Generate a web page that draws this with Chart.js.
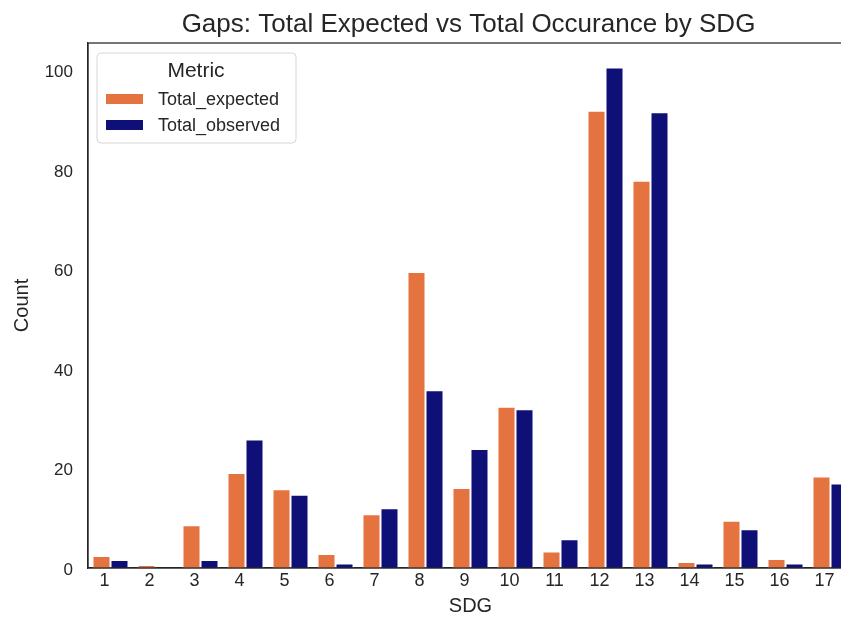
<!DOCTYPE html>
<html>
<head>
<meta charset="utf-8">
<script src="https://cdn.jsdelivr.net/npm/chart.js@4.4.1/dist/chart.umd.min.js"></script>
<style>
  html, body { margin: 0; padding: 0; overflow: hidden; background: #fff; }
  #wrap { position: absolute; left: 0; top: 0; width: 870px; height: 627px; }
</style>
</head>
<body>
<div id="wrap"><canvas id="gapChart"></canvas></div>
<script>
const sdgLabels = ["1", "2", "3", "4", "5", "6", "7", "8", "9", "10", "11", "12", "13", "14", "15", "16", "17"];
const totalExpected = [2.4, 0.6, 8.6, 19.1, 15.8, 2.8, 10.8, 59.5, 16.1, 32.4, 3.3, 91.9, 77.8, 1.2, 9.5, 1.8, 18.4];
const totalObserved = [1.6, 0, 1.6, 25.8, 14.7, 0.9, 12.0, 35.7, 23.9, 31.9, 5.8, 100.6, 91.6, 0.9, 7.8, 0.9, 17.0];
const yTicks = [0, 20, 40, 60, 80, 100];
const chartTitle = "Gaps: Total Expected vs Total Occurance by SDG";

const textColor = "#262626";
const fontFamily = "'Liberation Sans', Arial, sans-serif";

// title centred over the plot area, not over the whole canvas
const plotTitle = {
  id: "plotTitle",
  afterDraw(chart) {
    const { ctx, chartArea: a } = chart;
    ctx.save();
    ctx.fillStyle = textColor;
    ctx.font = "26px " + fontFamily;
    ctx.textAlign = "center";
    ctx.textBaseline = "alphabetic";
    ctx.fillText(chartTitle, (a.left + a.right) / 2 - 2, 32);
    ctx.restore();
  },
};

// top/right spine, like the matplotlib axes box
const axesBox = {
  id: "axesBox",
  afterDraw(chart) {
    const { ctx, chartArea: a } = chart;
    ctx.save();
    ctx.strokeStyle = textColor;
    ctx.lineWidth = 1.25;
    ctx.strokeRect(a.left, a.top, a.right - a.left, a.bottom - a.top);
    ctx.restore();
  },
};

// legend box drawn inside the plot, top left
const metricLegend = {
  id: "metricLegend",
  afterDraw(chart) {
    const { ctx, chartArea: a } = chart;
    const x = a.left + 9, y = a.top + 10, w = 199, h = 90;
    ctx.save();
    ctx.fillStyle = "rgba(255,255,255,0.85)";
    ctx.strokeStyle = "#d6d6d6";
    ctx.lineWidth = 1;
    ctx.beginPath();
    ctx.roundRect(x, y, w, h, 4);
    ctx.fill();
    ctx.stroke();

    ctx.fillStyle = textColor;
    ctx.textAlign = "center";
    ctx.textBaseline = "alphabetic";
    ctx.font = "21px " + fontFamily;
    ctx.fillText("Metric", x + 99, y + 24);

    ctx.textAlign = "left";
    ctx.font = "18px " + fontFamily;
    chart.data.datasets.forEach((ds, i) => {
      const rowY = y + 46 + i * 26;
      ctx.fillStyle = ds.backgroundColor;
      ctx.fillRect(x + 9, rowY - 5, 37, 10);
      ctx.fillStyle = textColor;
      ctx.fillText(ds.label, x + 61, rowY + 6);
    });
    ctx.restore();
  },
};

new Chart(document.getElementById("gapChart"), {
  type: "bar",
  data: {
    labels: sdgLabels,
    datasets: [
      {
        label: "Total_expected",
        data: totalExpected,
        backgroundColor: "#e5733f",
        borderColor: "rgba(255,255,255,0.75)",
        borderWidth: 1,
      },
      {
        label: "Total_observed",
        data: totalObserved,
        backgroundColor: "#0f0f78",
        borderColor: "rgba(255,255,255,0.75)",
        borderWidth: 1,
      },
    ],
  },
  options: {
    responsive: true,
    maintainAspectRatio: false,
    animation: false,
    layout: { padding: { left: 0, right: 17, top: 43, bottom: 0 } },
    datasets: { bar: { categoryPercentage: 0.8, barPercentage: 1.0 } },
    plugins: {
      legend: { display: false },
      tooltip: { enabled: false },
      title: { display: false },
    },
    scales: {
      x: {
        grid: { display: false, drawTicks: false },
        border: { display: true, color: textColor, width: 1.25 },
        ticks: {
          color: textColor,
          font: { family: fontFamily, size: 18 },
          padding: 2,
          labelOffset: -6,
          maxRotation: 0,
        },
        title: {
          display: true,
          text: "SDG",
          color: textColor,
          font: { family: fontFamily, size: 20 },
          padding: { top: 0, bottom: 9 },
        },
        afterFit(scale) { scale.height = 59; },
      },
      y: {
        min: 0,
        max: 105.5,
        grid: { display: false, drawTicks: false },
        border: { display: true, color: textColor, width: 1.25 },
        ticks: {
          color: textColor,
          font: { family: fontFamily, size: 17 },
          padding: 15,
          labelOffset: 2,
        },
        afterBuildTicks(scale) {
          scale.ticks = yTicks.map((v) => ({ value: v }));
        },
        title: {
          display: true,
          text: "Count",
          color: textColor,
          font: { family: fontFamily, size: 20 },
          padding: { top: 10, bottom: 0 },
        },
        afterFit(scale) { scale.width = 88; },
      },
    },
  },
  plugins: [axesBox, metricLegend, plotTitle],
});
</script>
</body>
</html>
